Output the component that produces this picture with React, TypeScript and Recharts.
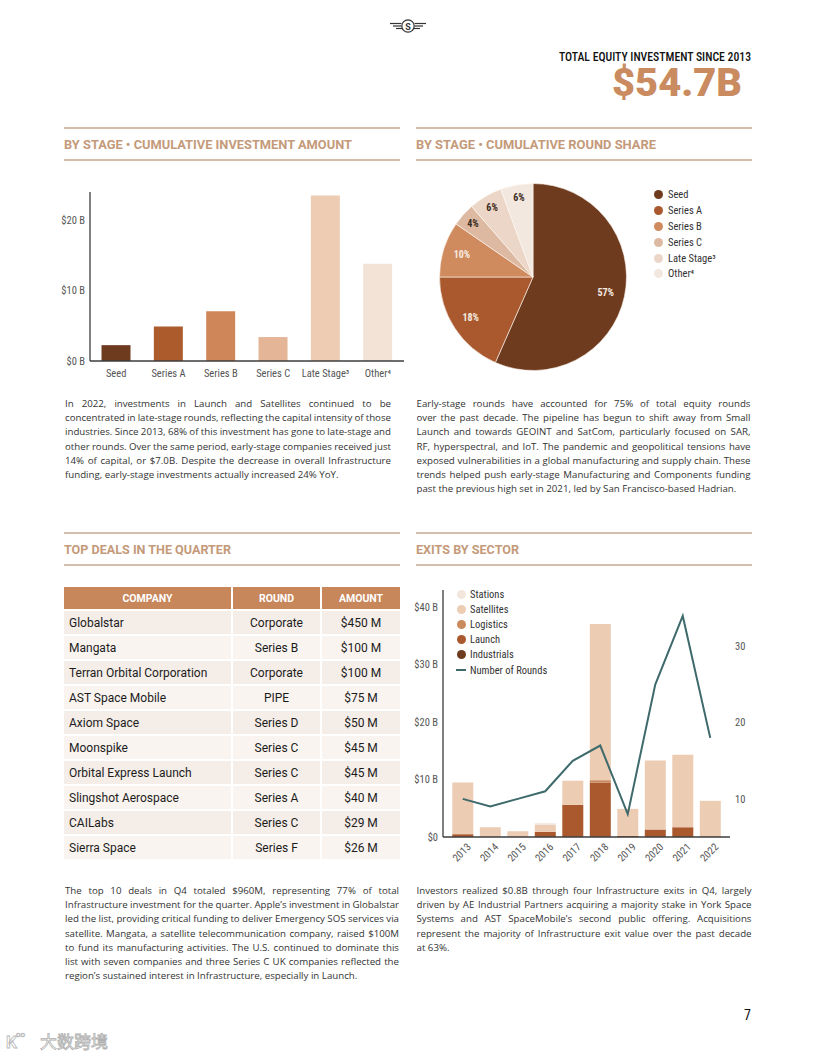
import React from 'react';
import { BarChart, Bar, XAxis, YAxis, Cell, PieChart, Pie, ComposedChart, Line } from 'recharts';

const COND = "'Roboto Condensed','Liberation Sans Narrow','Arial Narrow','DejaVu Sans Condensed',Roboto,sans-serif";
const BODY = "'Open Sans',sans-serif";
const TITLE_COLOR = '#C49A7A';
const RULE_COLOR = '#C9A890';

// ---- By stage: cumulative investment amount ($B)
const stageNames = ['Seed', 'Series A', 'Series B', 'Series C', 'Late Stage³', 'Other⁴'];
const stageAmounts = [2.25, 4.9, 7.05, 3.4, 23.5, 13.8];
const stageColors = ['#6E3B1F', '#AC5B2D', '#CF8658', '#E4B597', '#EECCB4', '#F3E2D6'];

// ---- By stage: cumulative round share (%)
const shareNames = ['Seed', 'Series A', 'Series B', 'Series C', 'Late Stage³', 'Other⁴'];
const shareValues = [56.6, 18.4, 9.6, 4, 5.8, 5.6];
const shareLabels = ['57%', '18%', '10%', '4%', '6%', '6%'];
const shareColors = ['#6E3B1F', '#A9592D', '#CF8A5E', '#DDB9A2', '#ECD6C8', '#F3E8E0'];

// ---- Exits by sector ($B) and number of rounds
const years = ['2013', '2014', '2015', '2016', '2017', '2018', '2019', '2020', '2021', '2022'];
const industrials = [0, 0, 0, 0, 0, 0, 0, 0, 0, 0];
const launch = [0.5, 0, 0, 0.9, 5.6, 9.5, 0.2, 1.3, 1.7, 0.1];
const logistics = [0, 0, 0, 0, 0, 0.4, 0, 0, 0, 0];
const satellites = [9.0, 1.7, 1.0, 1.2, 4.2, 27.2, 4.7, 12.0, 12.6, 6.2];
const stations = [0, 0, 0, 0.3, 0, 0, 0, 0, 0, 0];
const rounds = [10, 9, 10, 11, 15, 17, 8, 25, 34, 18];
const sectorNames = ['Stations', 'Satellites', 'Logistics', 'Launch', 'Industrials'];
const sectorColors = ['#F2E6DD', '#EDCCB4', '#C98A5E', '#A9592D', '#6E3B1F'];
const roundsColor = '#3F6A6C';

// ---- Top deals
const dealCompanies = ['Globalstar', 'Mangata', 'Terran Orbital Corporation', 'AST Space Mobile', 'Axiom Space', 'Moonspike', 'Orbital Express Launch', 'Slingshot Aerospace', 'CAILabs', 'Sierra Space'];
const dealRounds = ['Corporate', 'Series B', 'Corporate', 'PIPE', 'Series D', 'Series C', 'Series C', 'Series A', 'Series C', 'Series F'];
const dealAmounts = ['$450 M', '$100 M', '$100 M', '$75 M', '$50 M', '$45 M', '$45 M', '$40 M', '$29 M', '$26 M'];

// ---- Paragraph lines
const para1 = [
  'In 2022, investments in Launch and Satellites continued to be',
  'concentrated in late-stage rounds, reflecting the capital intensity of those',
  'industries. Since 2013, 68% of this investment has gone to late-stage and',
  'other rounds. Over the same period, early-stage companies received just',
  '14% of capital, or $7.0B. Despite the decrease in overall Infrastructure',
  'funding, early-stage investments actually increased 24% YoY.',
];
const para2 = [
  'Early-stage rounds have accounted for 75% of total equity rounds',
  'over the past decade. The pipeline has begun to shift away from Small',
  'Launch and towards GEOINT and SatCom, particularly focused on SAR,',
  'RF, hyperspectral, and IoT. The pandemic and geopolitical tensions have',
  'exposed vulnerabilities in a global manufacturing and supply chain. These',
  'trends helped push early-stage Manufacturing and Components funding',
  'past the previous high set in 2021, led by San Francisco-based Hadrian.',
];
const para3 = [
  'The top 10 deals in Q4 totaled $960M, representing 77% of total',
  'Infrastructure investment for the quarter. Apple’s investment in Globalstar',
  'led the list, providing critical funding to deliver Emergency SOS services via',
  'satellite. Mangata, a satellite telecommunication company, raised $100M',
  'to fund its manufacturing activities. The U.S. continued to dominate this',
  'list with seven companies and three Series C UK companies reflected the',
  'region’s sustained interest in Infrastructure, especially in Launch.',
];
const para4 = [
  'Investors realized $0.8B through four Infrastructure exits in Q4, largely',
  'driven by AE Industrial Partners acquiring a majority stake in York Space',
  'Systems and AST SpaceMobile’s second public offering. Acquisitions',
  'represent the majority of Infrastructure exit value over the past decade',
  'at 63%.',
];

const stageData = stageNames.map((name, i) => ({ name, value: stageAmounts[i] }));
const shareData = shareNames.map((name, i) => ({ name, value: shareValues[i], label: shareLabels[i] }));
const exitData = years.map((year, i) => ({
  year,
  industrials: industrials[i],
  launch: launch[i],
  logistics: logistics[i],
  satellites: satellites[i],
  stations: stations[i],
  rounds: rounds[i],
}));

const tickStyle = { fontSize: 10.5, fill: '#555', fontFamily: COND };
const axisLineStyle = { stroke: '#3c3c3c', strokeWidth: 1.3 };

const Paragraph = ({ lines, left, top, width }: { lines: string[]; left: number; top: number; width: number }) => (
  <div style={{ position: 'absolute', left, top, width, fontFamily: BODY, fontSize: 9.7, color: '#333' }}>
    {lines.map((l, i) => {
      const last = i === lines.length - 1;
      return (
        <div
          key={i}
          style={{
            height: 14.2,
            lineHeight: '14.2px',
            textAlign: last ? 'left' : 'justify',
            textAlignLast: last ? 'left' : 'justify',
            wordSpacing: last ? 0 : -3,
            overflow: 'hidden',
          }}
        >
          {l}
        </div>
      );
    })}
  </div>
);

const RADIAN = Math.PI / 180;
const renderPieLabel = (props: any) => {
  const { cx, cy, midAngle, outerRadius, index, percent } = props;
  const r = outerRadius * (percent < 0.08 ? 0.86 : 0.795);
  const x = cx + r * Math.cos(-midAngle * RADIAN);
  const y = cy + r * Math.sin(-midAngle * RADIAN);
  return (
    <text x={x} y={y} textAnchor="middle" dominantBaseline="central" fontSize={10} fontWeight={700} fontFamily={COND} fill={index < 3 ? '#F6EAE0' : '#3A2A20'}>
      {shareLabels[index]}
    </text>
  );
};

const YearTick = (props: any) => {
  const { x, y, payload } = props;
  return (
    <g transform={`translate(${x - 1},${y + 7.5}) rotate(-45)`}>
      <text x={0} y={0} textAnchor="middle" dominantBaseline="central" fontSize={10.5} fontFamily={COND} fill="#555">
        {payload.value}
      </text>
    </g>
  );
};

const MoneyTick = (props: any) => {
  const { x, y, payload } = props;
  const v = payload.value;
  return (
    <text x={x} y={y} textAnchor="end" dominantBaseline="central" fontSize={10.5} fontFamily={COND} fill="#555">
      {v === 0 ? '$0' : `$${v} B`}
    </text>
  );
};

const colLeft = [64, 233, 322];
const colWidth = [167, 87, 78];

export default function App() {
  return (
    <div style={{ position: 'absolute', left: 0, top: 0, width: 816, height: 1056, background: '#fff', overflow: 'hidden' }}>
      {/* Page decorations */}
      <svg width={816} height={1056} style={{ position: 'absolute', left: 0, top: 0 }}>
        {/* logo */}
        <g stroke="#333" fill="none" strokeWidth={1.2}>
          <circle cx={408} cy={26} r={6.2} />
          <line x1={390} y1={23.5} x2={401.5} y2={23.5} />
          <line x1={393} y1={26} x2={401.5} y2={26} />
          <line x1={396} y1={28.5} x2={402} y2={28.5} />
          <line x1={414.5} y1={23.5} x2={426} y2={23.5} />
          <line x1={414.5} y1={26} x2={423} y2={26} />
          <line x1={414} y1={28.5} x2={420} y2={28.5} />
        </g>
        <text x={408} y={29.5} textAnchor="middle" fontSize={9} fontWeight={700} fontFamily="Roboto" fill="#333">S</text>

        <text x={751} y={60.5} textAnchor="end" fontSize={12} fontWeight={500} fontFamily={COND} fill="#111" textLength={192} lengthAdjust="spacingAndGlyphs">
          TOTAL EQUITY INVESTMENT SINCE 2013
        </text>
        <text x={742} y={96} textAnchor="end" fontSize={39} fontWeight={900} fontFamily="Roboto" fill="#C98B5F" textLength={130} lengthAdjust="spacingAndGlyphs">
          $54.7B
        </text>

        {/* section rules */}
        {[128, 160, 533, 565].map((y) => (
          <g key={y}>
            <line x1={64} x2={400} y1={y} y2={y} stroke={RULE_COLOR} strokeWidth={1.5} />
            <line x1={416} x2={752} y1={y} y2={y} stroke={RULE_COLOR} strokeWidth={1.5} />
          </g>
        ))}
        <text x={64} y={148.5} fontSize={12.5} fontWeight={700} fontFamily="Roboto" fill={TITLE_COLOR} textLength={288} lengthAdjust="spacingAndGlyphs">
          BY STAGE  •  CUMULATIVE INVESTMENT AMOUNT
        </text>
        <text x={416} y={148.5} fontSize={12.5} fontWeight={700} fontFamily="Roboto" fill={TITLE_COLOR} textLength={240} lengthAdjust="spacingAndGlyphs">
          BY STAGE  •  CUMULATIVE ROUND SHARE
        </text>
        <text x={64} y={554} fontSize={12.5} fontWeight={700} fontFamily="Roboto" fill={TITLE_COLOR} textLength={167} lengthAdjust="spacingAndGlyphs">
          TOP DEALS IN THE QUARTER
        </text>
        <text x={416} y={554} fontSize={12.5} fontWeight={700} fontFamily="Roboto" fill={TITLE_COLOR} textLength={103} lengthAdjust="spacingAndGlyphs">
          EXITS BY SECTOR
        </text>

        <text x={751} y={1020} textAnchor="end" fontSize={14} fontFamily={COND} fill="#111">7</text>

        {/* watermark */}
        <text x={6} y={1048} fontSize={17} fontFamily="Roboto" fontWeight={700} fill="#fff" stroke="#B8B8B8" strokeWidth={0.8}>K</text>
        <text x={16} y={1037} fontSize={8} fontFamily="Roboto" fill="#fff" stroke="#B8B8B8" strokeWidth={0.6}>oo</text>
        <text x={40} y={1048} fontSize={17} fontFamily="'Noto Sans CJK SC'" fill="#fff" stroke="#B0B0B0" strokeWidth={0.8}>大数跨境</text>
      </svg>

      {/* Chart 1: cumulative investment amount */}
      <div style={{ position: 'absolute', left: 50, top: 180 }}>
        <BarChart width={360} height={215} data={stageData} margin={{ top: 12, right: 6, bottom: 10, left: 0 }} barCategoryGap="22%">
          <XAxis dataKey="name" interval={0} tickLine={false} axisLine={axisLineStyle} tick={tickStyle} tickMargin={3} height={24} />
          <YAxis width={40} domain={[0, 24]} ticks={[0, 10, 20]} tickFormatter={(v: number) => `$${v} B`} tickLine={false} axisLine={axisLineStyle} tick={tickStyle} tickSize={3} tickMargin={2} />
          <Bar dataKey="value" isAnimationActive={false}>
            {stageData.map((d, i) => (
              <Cell key={d.name} fill={stageColors[i]} />
            ))}
          </Bar>
        </BarChart>
      </div>

      {/* Chart 2: round share pie */}
      <div style={{ position: 'absolute', left: 415, top: 180 }}>
        <PieChart width={240} height={200} margin={{ top: 0, right: 0, bottom: 0, left: 0 }}>
          <Pie data={shareData} dataKey="value" nameKey="name" cx={118} cy={97} outerRadius={93.5} startAngle={90} endAngle={-270} stroke="#FFF8F2" strokeWidth={0.6} label={renderPieLabel} labelLine={false} isAnimationActive={false}>
            {shareData.map((d, i) => (
              <Cell key={d.name} fill={shareColors[i]} />
            ))}
          </Pie>
        </PieChart>
      </div>
      <div style={{ position: 'absolute', left: 654, top: 187, fontFamily: COND, fontSize: 10.5, color: '#333' }}>
        {shareNames.map((n, i) => (
          <div key={n} style={{ height: 15.8, display: 'flex', alignItems: 'center' }}>
            <span style={{ width: 9, height: 9, borderRadius: '50%', background: shareColors[i], display: 'inline-block', marginRight: 5 }} />
            <span>{n}</span>
          </div>
        ))}
      </div>

      <Paragraph lines={para1} left={65} top={397} width={326} />
      <Paragraph lines={para2} left={416.5} top={397} width={334} />

      {/* Table */}
      <div style={{ position: 'absolute', left: 0, top: 0, fontFamily: 'Roboto' }}>
        {['COMPANY', 'ROUND', 'AMOUNT'].map((h, c) => (
          <div key={h} style={{ position: 'absolute', left: colLeft[c], top: 587, width: colWidth[c], height: 22, background: '#C8865B', color: '#fff', fontWeight: 700, fontSize: 10.5, display: 'flex', alignItems: 'center', justifyContent: 'center' }}>
            {h}
          </div>
        ))}
        {dealCompanies.map((name, r) => {
          const cells = [name, dealRounds[r], dealAmounts[r]];
          return cells.map((txt, c) => (
            <div key={`${r}-${c}`} style={{ position: 'absolute', left: colLeft[c], top: 611 + r * 25, width: colWidth[c], height: 23, background: r % 2 === 0 ? '#F5EDE8' : '#FAF4F0', color: '#1c1c1c', fontSize: 12, display: 'flex', alignItems: 'center', justifyContent: c === 0 ? 'flex-start' : 'center', paddingLeft: c === 0 ? 5 : 0, boxSizing: 'border-box' }}>
              {txt}
            </div>
          ));
        })}
      </div>

      {/* Chart 3: exits by sector */}
      <div style={{ position: 'absolute', left: 405, top: 580 }}>
        <ComposedChart width={355} height={300} data={exitData} margin={{ top: 10, right: 5, bottom: 3, left: 0 }} barCategoryGap="12%">
          <XAxis dataKey="year" interval={0} height={40} tick={<YearTick />} tickLine={false} axisLine={axisLineStyle} padding={{ left: 6, right: 6 }} />
          <YAxis yAxisId="left" width={38} domain={[0, 43]} ticks={[0, 10, 20, 30, 40]} tickLine={false} axisLine={axisLineStyle} tick={<MoneyTick />} tickSize={3} tickMargin={2} />
          <YAxis yAxisId="right" orientation="right" width={25} domain={[5, 37.4]} ticks={[10, 20, 30]} tickLine={false} axisLine={false} tick={tickStyle} tickSize={3} tickMargin={2} />
          <Bar yAxisId="left" dataKey="industrials" stackId="a" fill={sectorColors[4]} isAnimationActive={false} />
          <Bar yAxisId="left" dataKey="launch" stackId="a" fill={sectorColors[3]} isAnimationActive={false} />
          <Bar yAxisId="left" dataKey="logistics" stackId="a" fill={sectorColors[2]} isAnimationActive={false} />
          <Bar yAxisId="left" dataKey="satellites" stackId="a" fill={sectorColors[1]} isAnimationActive={false} />
          <Bar yAxisId="left" dataKey="stations" stackId="a" fill={sectorColors[0]} isAnimationActive={false} />
          <Line yAxisId="right" type="linear" dataKey="rounds" stroke={roundsColor} strokeWidth={2} dot={false} isAnimationActive={false} />
        </ComposedChart>
      </div>
      <div style={{ position: 'absolute', left: 456, top: 586.5, fontFamily: COND, fontSize: 10.5, color: '#333' }}>
        {sectorNames.map((n, i) => (
          <div key={n} style={{ height: 15.2, display: 'flex', alignItems: 'center' }}>
            <span style={{ width: 9, height: 9, borderRadius: '50%', background: sectorColors[i], display: 'inline-block', marginLeft: 0.5, marginRight: 4.5 }} />
            <span>{n}</span>
          </div>
        ))}
        <div style={{ height: 15.2, display: 'flex', alignItems: 'center' }}>
          <span style={{ width: 10, height: 2, background: roundsColor, display: 'inline-block', marginRight: 4 }} />
          <span>Number of Rounds</span>
        </div>
      </div>

      <Paragraph lines={para3} left={65} top={884} width={334} />
      <Paragraph lines={para4} left={416.5} top={884} width={335} />
    </div>
  );
}
